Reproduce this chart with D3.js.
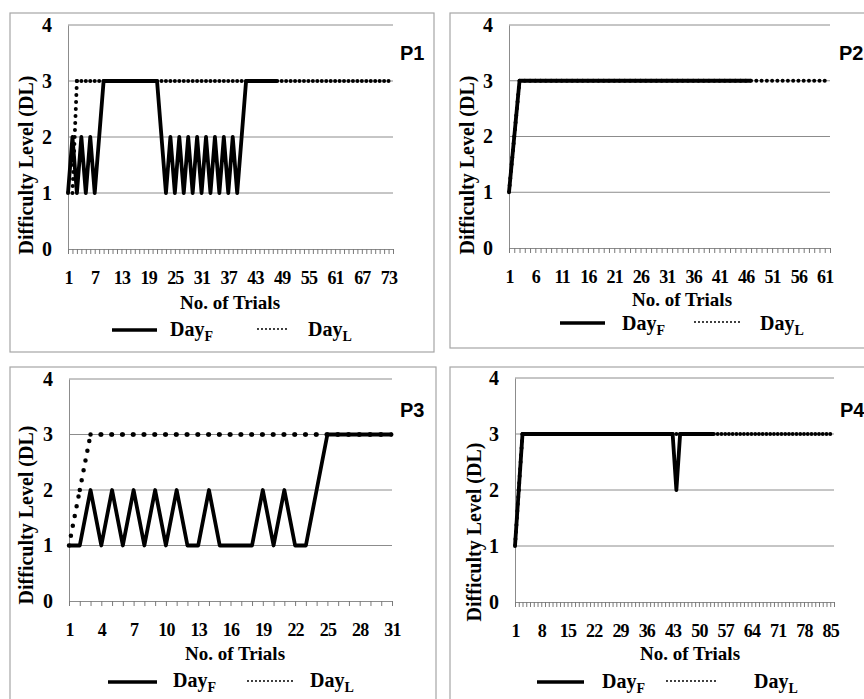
<!DOCTYPE html>
<html>
<head>
<meta charset="utf-8">
<script src="https://cdn.jsdelivr.net/npm/d3@7"></script>
<style>
  body { margin: 0; background: #fff; }
  text { font-family: "Liberation Serif", "Times New Roman", serif; font-weight: bold; fill: #000; }
</style>
</head>
<body>
<svg id="chart" width="864" height="699"></svg>
<script>
// difficulty level per trial
const p1DayF = [1,2,1,2,1,2,1,2,3, 3,3,3,3,3,3,3,3,3,3,3,3,
                2,1,2,1,2,1,2,1,2,1,2,1,2,1,2,1,2,1,2,3, 3,3,3,3,3,3,3];
const p1DayL = [1,1,3,3,3,3,3,3,3,3, 3,3,3,3,3,3,3,3,3,3, 3,3,3,3,3,3,3,3,3,3,
                3,3,3,3,3,3,3,3,3,3, 3,3,3,3,3,3,3,3,3,3, 3,3,3,3,3,3,3,3,3,3,
                3,3,3,3,3,3,3,3,3,3, 3,3,3,3];
const p2DayF = [1,2,3,3,3,3,3,3,3,3, 3,3,3,3,3,3,3,3,3,3, 3,3,3,3,3,3,3,3,3,3,
                3,3,3,3,3,3,3,3,3,3, 3,3,3,3,3,3,3];
const p2DayL = [1,2,3,3,3,3,3,3,3,3, 3,3,3,3,3,3,3,3,3,3, 3,3,3,3,3,3,3,3,3,3,
                3,3,3,3,3,3,3,3,3,3, 3,3,3,3,3,3,3,3,3,3, 3,3,3,3,3,3,3,3,3,3, 3,3];
const p3DayF = [1,1,2,1,2,1,2,1,2,1, 2,1,1,2,1,1,1,1,2,1, 2,1,1,2,3,3,3,3,3,3, 3];
const p3DayL = [1,2,3,3,3,3,3,3,3,3, 3,3,3,3,3,3,3,3,3,3, 3,3,3,3,3,3,3,3,3,3, 3];
const p4DayF = [1,2,3,3,3,3,3,3,3,3, 3,3,3,3,3,3,3,3,3,3, 3,3,3,3,3,3,3,3,3,3,
                3,3,3,3,3,3,3,3,3,3, 3,3,3,2,3,3,3,3,3,3, 3,3,3,3];
const p4DayL = [1,2,3,3,3,3,3,3,3,3, 3,3,3,3,3,3,3,3,3,3, 3,3,3,3,3,3,3,3,3,3,
                3,3,3,3,3,3,3,3,3,3, 3,3,3,3,3,3,3,3,3,3, 3,3,3,3,3,3,3,3,3,3,
                3,3,3,3,3,3,3,3,3,3, 3,3,3,3,3,3,3,3,3,3, 3,3,3,3,3,3];

// number of categories on each x axis and the labelled ones
const p1Trials = 74, p2Trials = 62, p3Trials = 31, p4Trials = 86;
const p1TickLabels = [1,7,13,19,25,31,37,43,49,55,61,67,73];
const p2TickLabels = [1,6,11,16,21,26,31,36,41,46,51,56,61];
const p3TickLabels = [1,4,7,10,13,16,19,22,25,28,31];
const p4TickLabels = [1,8,15,22,29,36,43,50,57,64,71,78,85];
const yTickLabels = [0,1,2,3,4];
const panelNames = ["P1","P2","P3","P4"];

const svg = d3.select("#chart");
svg.append("rect").attr("width", 864).attr("height", 699).attr("fill", "#fff");

const panels = [
  { name: panelNames[0], dayF: p1DayF, dayL: p1DayL, n: p1Trials, labels: p1TickLabels,
    box: [10, 13, 434, 352], x0: 68, x1: 393, yTop: 25, yBot: 249, dotGap: 7,
    pLabel: [400, 60], xTitle: [230, 309], yTitle: [26, 165],
    legY: 330, legText: 336, leg: [112, 157, 170, 258, 288, 308] },
  { name: panelNames[1], dayF: p2DayF, dayL: p2DayL, n: p2Trials, labels: p2TickLabels,
    box: [450, 13, 880, 348], x0: 509, x1: 830, yTop: 25, yBot: 248, dotGap: 7,
    pLabel: [839, 60], xTitle: [682, 306], yTitle: [467, 165],
    legY: 323, legText: 330, leg: [560, 605, 622, 695, 742, 760] },
  { name: panelNames[2], dayF: p3DayF, dayL: p3DayL, n: p3Trials, labels: p3TickLabels,
    box: [10, 367, 436, 710], x0: 69, x1: 392, yTop: 379, yBot: 601, dotGap: 10,
    pLabel: [400, 417], xTitle: [235, 660], yTitle: [26, 515],
    legY: 682, legText: 687, leg: [108, 157, 173, 248, 293, 310] },
  { name: panelNames[3], dayF: p4DayF, dayL: p4DayL, n: p4Trials, labels: p4TickLabels,
    box: [450, 367, 880, 710], x0: 515, x1: 834, yTop: 378, yBot: 602, dotGap: 7,
    pLabel: [840, 417], xTitle: [690, 660], yTitle: [474, 532],
    legY: 682, legText: 688, leg: [537, 584, 602, 667, 717, 754] }
];

panels.forEach(function(p) {
  const g = svg.append("g");

  // panel border
  g.append("rect")
    .attr("x", p.box[0]).attr("y", p.box[1])
    .attr("width", p.box[2] - p.box[0]).attr("height", p.box[3] - p.box[1])
    .attr("fill", "none").attr("stroke", "#a6a6a6").attr("stroke-width", 1.2);

  const x = d3.scaleLinear().domain([1, p.n]).range([p.x0, p.x1]);
  const y = d3.scaleLinear().domain([0, 4]).range([p.yBot, p.yTop]);

  // gridlines
  g.selectAll("line.grid").data(yTickLabels.filter(d => d > 0)).enter()
    .append("line")
    .attr("x1", p.x0).attr("x2", p.x1)
    .attr("y1", d => y(d)).attr("y2", d => y(d))
    .attr("stroke", "#8c8c8c").attr("stroke-width", 1);

  // y axis
  const yAxis = g.append("g").attr("transform", `translate(${p.x0},0)`)
    .call(d3.axisLeft(y).tickValues(yTickLabels).tickSize(0).tickPadding(16)
      .tickFormat(d3.format("d")));
  yAxis.select(".domain").attr("stroke", "#8c8c8c");
  yAxis.selectAll("text").style("font-size", "20px")
    .style("font-family", "Liberation Serif").style("font-weight", "bold");

  // x axis: a tick at every trial, labels on the chosen ones
  const categories = d3.range(1, p.n + 1);
  const xTicks = g.append("g").attr("transform", `translate(0,${p.yBot})`)
    .call(d3.axisBottom(x).tickValues(categories).tickSize(5).tickSizeOuter(0).tickFormat(""));
  xTicks.select(".domain").attr("stroke", "#8c8c8c");
  xTicks.selectAll(".tick line").attr("stroke", "#7a7a7a");

  const xLabels = g.append("g").attr("transform", `translate(0,${p.yBot})`)
    .call(d3.axisBottom(x).tickValues(p.labels).tickSize(0).tickPadding(22).tickFormat(d3.format("d")));
  xLabels.select(".domain").remove();
  xLabels.selectAll("text").style("font-size", "18px").style("letter-spacing", "-0.8px")
    .style("font-family", "Liberation Serif").style("font-weight", "bold");

  // Day F : solid line
  const line = d3.line().x(d => x(d.t)).y(d => y(d.v));
  const ptsF = p.dayF.map((v, i) => ({ t: i + 1, v: v }));
  g.append("path").datum(ptsF)
    .attr("d", line)
    .attr("fill", "none").attr("stroke", "#000")
    .attr("stroke-width", 3.8).attr("stroke-linejoin", "round");

  // Day L : round dots, pattern restarts at every point like the original
  const ptsL = p.dayL.map((v, i) => ({ t: i + 1, v: v }));
  g.selectAll("path.dl").data(d3.pairs(ptsL)).enter()
    .append("path")
    .attr("d", d => line(d))
    .attr("fill", "none").attr("stroke", "#000")
    .attr("stroke-width", p.dotGap > 8 ? 4.5 : 4)
    .attr("stroke-linecap", "round")
    .attr("stroke-dasharray", `0,${p.dotGap}`);

  // titles
  g.append("text").attr("x", p.xTitle[0]).attr("y", p.xTitle[1])
    .attr("text-anchor", "middle").style("font-size", "19px").text("No. of Trials");
  g.append("text")
    .attr("transform", `translate(${p.yTitle[0]},${p.yTitle[1]}) rotate(-90)`)
    .attr("text-anchor", "middle").attr("dominant-baseline", "central")
    .style("font-size", "20px").text("Difficulty Level (DL)");
  g.append("text").attr("x", p.pLabel[0]).attr("y", p.pLabel[1])
    .style("font-family", "Liberation Sans").style("font-size", "20px")
    .text(p.name);

  // legend
  g.append("line").attr("x1", p.leg[0]).attr("x2", p.leg[1])
    .attr("y1", p.legY).attr("y2", p.legY)
    .attr("stroke", "#000").attr("stroke-width", 3.5);
  const tF = g.append("text").attr("x", p.leg[2]).attr("y", p.legText).style("font-size", "20px");
  tF.append("tspan").text("Day");
  tF.append("tspan").attr("dy", 5).style("font-size", "14px").text("F");
  g.append("line").attr("x1", p.leg[3]).attr("x2", p.leg[4])
    .attr("y1", p.legY - 1).attr("y2", p.legY - 1)
    .attr("stroke", "#000").attr("stroke-width", 2)
    .attr("stroke-linecap", "round").attr("stroke-dasharray", "0,4");
  const tL = g.append("text").attr("x", p.leg[5]).attr("y", p.legText).style("font-size", "20px");
  tL.append("tspan").text("Day");
  tL.append("tspan").attr("dy", 5).style("font-size", "14px").text("L");
});
</script>
</body>
</html>
